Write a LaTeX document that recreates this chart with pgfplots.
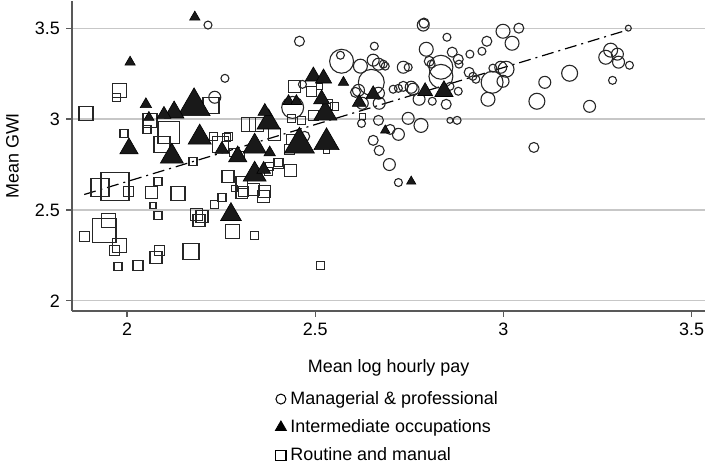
\documentclass[border=0pt]{standalone}
\usepackage{fontspec}
\setmainfont{Liberation Sans}
\usepackage{pgfplots}
\usepackage{pgfplotstable}
\pgfplotsset{compat=1.18}

\pgfplotstableread{
x y s
2.215 3.517 2
2.260 3.224 2
2.233 3.120 3
2.458 3.428 2.5
2.567 3.351 2
2.570 3.318 6
2.620 3.291 3.5
2.657 3.401 2
2.654 3.324 3
2.668 3.302 3
2.686 3.291 2
2.734 3.285 3
2.649 3.202 6.5
2.707 3.164 2
2.721 3.169 2
2.734 3.180 2.5
2.755 3.175 3
2.615 3.158 3
2.607 3.147 2.5
2.668 3.142 3
2.670 3.087 3
2.625 3.087 3
2.466 3.191 2
2.440 3.064 5.5
2.668 2.993 2.5
2.623 2.976 2
2.747 3.004 3
2.472 2.905 2.5
2.699 2.943 2.5
2.721 2.916 3
2.654 2.883 2.5
2.670 2.827 2.5
2.697 2.750 3
2.721 2.651 2
2.787 3.517 3
2.789 3.528 2.5
2.999 3.483 3.5
3.041 3.500 2.5
3.023 3.417 3.5
2.956 3.428 2.5
2.850 3.450 2
2.943 3.373 2
2.911 3.357 2
2.795 3.384 3.5
2.864 3.368 2.5
2.834 3.285 6
2.834 3.235 6
2.803 3.318 2.5
2.808 3.302 2
2.880 3.329 2.5
2.882 3.302 2
2.747 3.285 2
2.909 3.257 2.5
2.919 3.235 2
2.927 3.219 2
2.970 3.202 5.5
2.999 3.208 3
3.007 3.274 4
2.993 3.285 3
2.972 3.280 2
2.760 3.164 3
2.776 3.109 3
2.811 3.098 2
2.848 3.081 2.5
2.858 3.180 2
2.880 3.153 2
2.959 3.109 3.5
3.089 3.098 4
3.110 3.202 3
3.176 3.252 4
2.781 2.965 3.5
2.858 2.993 1.5
2.877 2.993 2
3.081 2.844 2.5
3.332 3.500 1.5
3.285 3.379 3.5
3.272 3.340 3.5
3.303 3.357 3
3.306 3.313 3
3.335 3.296 2
3.290 3.213 2
3.229 3.070 3
2.681 3.302 2
}\mgr

\pgfplotstableread{
x y s
2.180 3.561 3
2.008 3.313 3
2.050 3.081 3.3
2.178 3.070 9.3
2.125 3.037 5.7
2.098 3.026 4
2.058 3.009 3
2.193 2.899 6.7
2.005 2.838 5.3
2.119 2.794 6.7
2.252 2.833 4
2.294 2.794 5.3
2.276 2.475 6
2.339 2.695 6.7
2.363 2.723 4
2.339 2.849 6.7
2.376 2.982 6.7
2.366 3.042 4
2.379 2.816 3.3
2.458 2.860 8.7
2.530 2.872 7.3
2.527 3.031 6.7
2.517 3.109 4.7
2.429 3.098 3.3
2.450 3.098 3.3
2.495 3.235 4.7
2.522 3.224 4.7
2.575 3.202 3
2.654 3.136 4.3
2.617 3.092 4
2.686 2.938 2.7
2.755 2.657 2.7
2.792 3.153 4.3
2.842 3.153 5.3
}\inter

\pgfplotstableread{
x y s
1.979 3.158 3.5
1.971 3.120 2
2.223 3.076 4
1.891 3.031 3.5
2.061 2.993 3.5
2.053 2.943 2
2.111 2.927 5.5
1.992 2.921 2
2.093 2.860 4
2.230 2.905 2
2.270 2.905 2
2.249 2.860 4
2.175 2.767 2
1.968 2.629 7
1.928 2.623 4.5
2.003 2.601 2.5
2.082 2.657 2
2.064 2.596 3
2.135 2.590 3.5
2.268 2.684 3
2.305 2.651 3
2.286 2.618 1.5
2.305 2.596 3
2.252 2.568 2
2.233 2.530 2
2.069 2.524 1.5
2.185 2.475 3
2.199 2.464 3
2.191 2.442 3
2.082 2.469 2
2.281 2.381 3.5
1.939 2.386 6
1.950 2.442 3.5
1.886 2.353 2.5
1.979 2.304 3.5
1.966 2.276 2.5
2.087 2.276 2.5
2.077 2.238 3
2.170 2.271 4
1.976 2.188 2
2.029 2.193 2.5
2.514 2.193 2
2.339 2.359 2
2.366 2.601 3
2.336 2.612 3
2.310 2.601 2.5
2.363 2.574 3
2.379 2.739 2
2.403 2.756 2.5
2.434 2.717 3
2.323 2.971 3.5
2.344 2.971 3.5
2.283 2.816 2
2.265 2.899 2
2.445 3.180 3
2.490 3.153 2.5
2.511 3.180 1.5
2.532 3.081 2.5
2.551 3.070 2
2.495 3.020 2.5
2.464 2.993 2
2.437 3.004 2
2.625 3.015 1.5
2.392 2.916 3
2.437 2.888 2.5
2.432 2.833 2.5
2.403 2.761 2
2.530 2.827 1.5
2.376 2.712 2
2.299 2.794 2.5
}\rout

\pgfplotsset{
  bubble/.style={scatter, only marks, forget plot,
    scatter/use mapped color={#1},
    visualization depends on={\thisrow{s}\as\perpointmarksize},
    scatter/@pre marker code/.append style={/tikz/mark size=\perpointmarksize}},
}

\begin{document}
\fontsize{9pt}{11pt}\selectfont
\begin{tikzpicture}
\begin{axis}[
  scale only axis,
  width=317.5pt, height=155.5pt,
  xmin=1.854, xmax=3.536, ymin=1.945, ymax=3.65,
  axis x line*=bottom, axis y line*=left,
  axis line style={black!65, line width=0.9pt},
  xtick={2,2.5,3,3.5}, ytick={2,2.5,3,3.5},
  tick align=outside, major tick length=3pt,
  tick style={black!65, line width=0.6pt},
  ymajorgrids, grid style={black!22, line width=0.6pt},
  /pgf/number format/assume math mode=true,
  ticklabel style={font=\fontsize{9pt}{11pt}\selectfont},
  xlabel={Mean log hourly pay}, ylabel={Mean GWI},
  label style={font=\fontsize{9pt}{11pt}\selectfont},
  xlabel style={at={(axis description cs:0.5,-0.185)}, anchor=center},
  ylabel style={at={(axis description cs:-0.0945,0.5)}, anchor=center},
  legend style={at={(axis description cs:0.5,-0.245)}, anchor=north, draw=none, fill=none,
    inner sep=0pt, row sep=2.3pt, font=\fontsize{9pt}{11pt}\selectfont,
    cells={anchor=west}},
  legend cell align=left,
]
\addlegendimage{only marks, mark=o, mark size=2.5pt, black, line width=0.5pt}
\addlegendentry{Managerial \& professional}
\addlegendimage{only marks, mark=triangle*, mark size=3.2pt, black}
\addlegendentry{Intermediate occupations}
\addlegendimage{only marks, mark=square, mark size=2.6pt, black, line width=0.7pt}
\addlegendentry{Routine and manual}

\addplot[bubble={draw=black!85}, mark=square, line width=0.65pt] table {\rout};
\addplot[bubble={draw=black!85}, mark=o, line width=0.55pt] table {\mgr};
\addplot[forget plot, black, line width=0.6pt, dash pattern=on 6pt off 2.5pt on 1pt off 2.5pt] coordinates {(1.886,2.585) (3.33,3.49)};
\addplot[bubble={draw=black, fill=black!90}, mark=triangle*, line width=0.3pt] table {\inter};
\end{axis}
\end{tikzpicture}
\end{document}
